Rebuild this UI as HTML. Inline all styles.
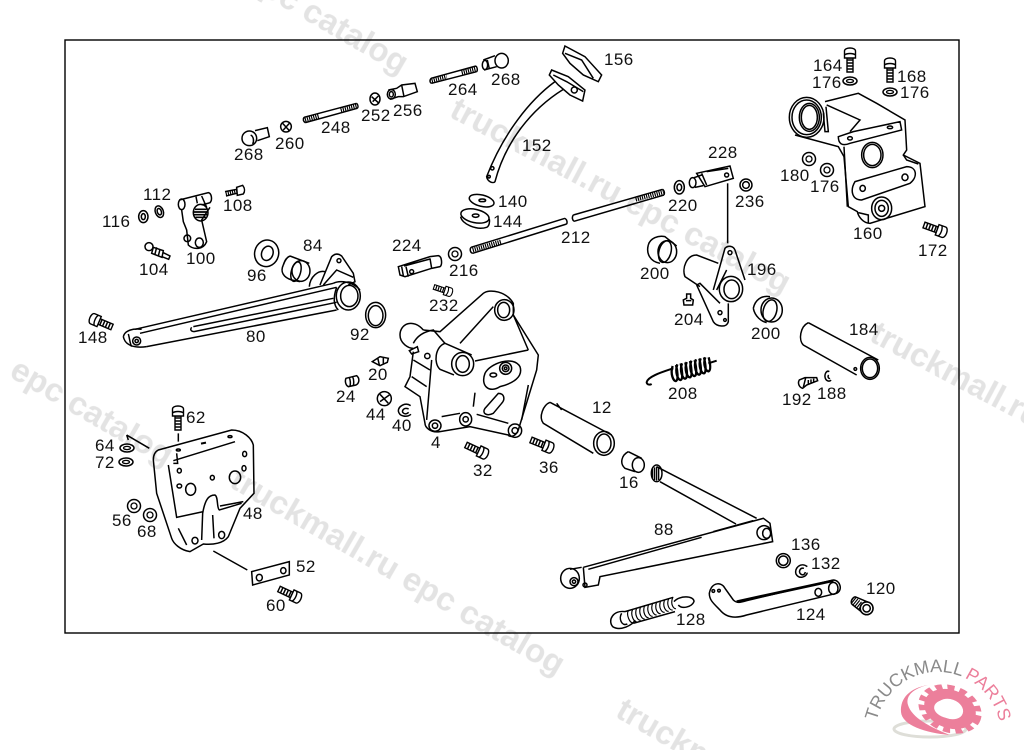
<!DOCTYPE html>
<html><head><meta charset="utf-8"><title>Parts diagram</title>
<style>
html,body{margin:0;padding:0;background:#fff;width:1024px;height:750px;overflow:hidden}
svg{display:block}
.p path,.p ellipse,.p circle,.p rect,.p line,.p polyline{fill:none;stroke:#000}
.p .h{stroke-width:14;stroke-dasharray:3.5 3}
.l text{font:17px "Liberation Sans",sans-serif;fill:#111;letter-spacing:.4px}
.wm text{font:bold 33px "Liberation Sans",sans-serif;fill:#e3e3e3}
</style></head><body>
<svg width="1024" height="750" viewBox="0 0 1024 750" xmlns="http://www.w3.org/2000/svg">
<defs>
<g id="bolt"><path d="M0,-3 L14,-3 L14,3 L0,3 Z" fill="#fff" stroke="#000" stroke-width="1.4"/><path d="M3,-3V3M6,-3V3M9,-3V3M12,-3V3" stroke="#000" stroke-width="1.5"/><path d="M14,-5.5 L21,-5.5 C25,-5.5 25,5.5 21,5.5 L14,5.5 Z M17,-5.5 C19,-3 19,3 17,5.5" fill="#fff" stroke="#000" stroke-width="1.4"/></g>
<g id="nut"><circle r="6.5" fill="#fff" stroke="#000" stroke-width="1.5"/><circle r="3" fill="none" stroke="#000" stroke-width="1.3"/></g>
<g id="wash"><ellipse rx="7" ry="4" fill="#fff" stroke="#000" stroke-width="1.5"/><ellipse rx="3.5" ry="1.6" fill="none" stroke="#000" stroke-width="1.3"/></g>
<path id="arc" d="M875,735 A63,63 0 1 1 1001,735"/>
<clipPath id="pg"><rect width="1024" height="750"/></clipPath>
</defs>

<rect width="1024" height="750" fill="#fff"/>

<!-- main bracket -->
<g class="p" transform="translate(380 280) scale(.3333)" stroke-width="4.5">
<path d="M130,150 L180,155 L310,40 C330,25 380,35 400,70 L400,105 L475,225 L470,270 L415,450 C405,475 385,470 385,465 L270,440 L180,455 C150,460 135,440 135,430 L120,350 L75,320 L90,290 L100,215"/>
<path d="M60,165 C60,130 100,115 130,150 M60,165 C60,190 85,205 100,205"/>
<path d="M100,190 C110,170 130,155 160,150 L195,190"/>
<path d="M240,190 L340,80 M400,105 L445,210 M285,243 L445,210 M285,338 L280,380 M290,403 L385,430 M445,315 L425,420 M185,410 L240,400 M100,240 L150,270 M95,290 L140,320 M155,240 L140,420"/>
<path d="M195,190 L275,225 M195,190 C165,200 160,250 180,268 L222,285"/>
<ellipse cx="248" cy="252" rx="33" ry="35"/><ellipse cx="248" cy="252" rx="20" ry="25"/>
<ellipse cx="373" cy="90" rx="29" ry="31"/><ellipse cx="371" cy="90" rx="18" ry="23"/>
<circle cx="142" cy="228" r="8"/><path d="M88,212 L112,200 L116,215 L95,222 Z"/>
<path d="M315,280 C330,250 400,225 420,260 C430,290 400,310 360,320 C330,340 300,320 315,280 Z"/>
<circle cx="377" cy="265" r="18"/><circle cx="377" cy="265" r="10"/><circle cx="377" cy="265" r="4"/>
<ellipse cx="340" cy="285" rx="10" ry="6"/>
<path d="M315,385 L355,340 C375,340 375,360 365,370 L340,400 C320,410 305,400 315,385 Z"/>
<ellipse cx="165" cy="437" rx="18" ry="17"/><circle cx="165" cy="437" r="8"/>
<ellipse cx="257" cy="418" rx="18" ry="20"/><circle cx="257" cy="418" r="8"/>
<ellipse cx="405" cy="452" rx="20" ry="20"/><circle cx="405" cy="452" r="9"/>
<path d="M510,367 C490,375 475,410 490,430 L640,520 M510,367 L695,465 M530,370 L545,390"/>
<ellipse cx="672" cy="490" rx="31" ry="36"/><ellipse cx="672" cy="490" rx="21" ry="28"/>
<path d="M745,515 C725,525 718,550 735,565 L765,575 M745,515 L785,535"/>
<ellipse cx="775" cy="555" rx="18" ry="22"/>
</g>

<!-- right bracket -->
<g class="p" transform="translate(770 40) scale(.3333)" stroke-width="4.5">
<path d="M165,185 L265,160 L320,190 L405,240 L410,330 L400,345 L450,370 L465,500 L300,550 C280,550 265,530 262,515 L235,500 L222,350 L205,320 L75,285"/>
<ellipse cx="110" cy="232" rx="52" ry="60"/><ellipse cx="110" cy="232" rx="44" ry="52"/><ellipse cx="118" cy="232" rx="30" ry="42"/><ellipse cx="118" cy="232" rx="24" ry="36"/>
<path d="M170,195 L270,240 L240,275 M168,200 L175,275 L165,275 L160,220"/>
<path d="M205,290 L250,275 L390,245 L395,270 L240,310 C215,320 205,310 205,290 Z"/>
<ellipse cx="240" cy="295" rx="7" ry="5"/><ellipse cx="360" cy="262" rx="8" ry="4"/>
<path d="M222,320 L232,500"/>
<ellipse cx="307" cy="345" rx="32" ry="38"/><ellipse cx="307" cy="345" rx="26" ry="32"/>
<path d="M255,425 L410,380 C440,380 445,410 420,430 L275,480 C245,480 240,450 255,425 Z"/>
<ellipse cx="405" cy="412" rx="9" ry="10"/><ellipse cx="278" cy="445" rx="8" ry="9"/>
<ellipse cx="335" cy="505" rx="30" ry="34"/><ellipse cx="335" cy="505" rx="20" ry="24"/><circle cx="335" cy="505" r="9"/>
<path d="M265,518 L295,525 L295,548 M400,345 L410,360 L445,372"/>
</g>
<use href="#wash" x="850" y="81"/><use href="#wash" x="890" y="92"/>
<use href="#bolt" transform="translate(850 72) rotate(-90)"/><use href="#bolt" transform="translate(890 82) rotate(-90)"/>
<use href="#nut" x="809" y="159"/><use href="#nut" x="827" y="170"/>
<use href="#bolt" transform="translate(924 225) rotate(20)"/>

<!-- bottom-left bracket -->
<g class="p" transform="translate(100 400) scale(.3333)" stroke-width="4.5">
<path d="M175,150 L395,90 C430,90 455,115 460,135 L462,280 L420,325 L385,410 C370,430 340,435 310,432 L270,455 C240,450 220,430 215,415 L170,280 L160,180 C160,165 165,155 175,150 Z"/>
<path d="M205,195 L230,352 L310,335 M220,182 L405,125 M230,160 L233,190 L220,190 M308,340 C315,300 325,285 345,285 C355,290 350,325 358,330 L425,310 M360,318 L430,305 M308,340 L305,420 M338,345 L342,415 M235,385 L260,435"/>
<ellipse cx="238" cy="212" rx="6" ry="7"/><ellipse cx="238" cy="258" rx="7" ry="6"/><ellipse cx="337" cy="233" rx="6" ry="7"/><ellipse cx="434" cy="162" rx="6" ry="8"/><ellipse cx="432" cy="205" rx="6" ry="8"/>
<ellipse cx="272" cy="268" rx="15" ry="18"/><ellipse cx="405" cy="232" rx="17" ry="19"/><ellipse cx="285" cy="422" rx="9" ry="10"/><ellipse cx="365" cy="405" rx="9" ry="11"/>
<ellipse cx="390" cy="110" rx="6" ry="3"/><ellipse cx="235" cy="150" rx="6" ry="3"/>
<path d="M303,131 L318,128" stroke-width="6"/>
<path d="M235,100 L235,125 M80,105 L148,145 M80,105 L85,120 M340,453 L442,510"/>
<path d="M455,515 L568,485 L568,525 L458,555 Z"/><ellipse cx="478" cy="533" rx="9" ry="10"/><ellipse cx="550" cy="512" rx="8" ry="9"/>
</g>
<use href="#bolt" transform="translate(178 430) rotate(-90)"/>
<use href="#wash" x="127" y="448"/><use href="#wash" x="126" y="462"/>
<use href="#nut" x="134" y="506"/><use href="#nut" x="150" y="515"/>
<use href="#bolt" transform="translate(279 589) rotate(25)"/>

<!-- top row -->
<g class="p" transform="translate(230 40) scale(.3333)" stroke-width="4.5">
<ellipse cx="58" cy="295" rx="22" ry="22"/><path d="M62,285 C72,290 72,305 68,312"/><path d="M75,272 L112,263 L118,290 L82,302"/>
<circle cx="168" cy="260" r="16"/><path d="M158,250 L178,272 M178,250 L160,270"/>
<path d="M222,232 L380,190 M226,248 L382,205 M222,232 C218,238 220,245 226,248 M380,190 C385,196 385,202 382,205"/>
<path d="M225,240 L268,228 M332,210 L380,198" class="h"/>
<ellipse cx="435" cy="177" rx="15" ry="18"/><path d="M425,170 L445,188 M445,168 L428,185"/>
<path d="M475,150 L500,145 L515,135 L555,130 L562,155 L520,170 L505,170 L480,178"/><ellipse cx="484" cy="163" rx="12" ry="14"/><ellipse cx="484" cy="163" rx="6" ry="8"/><path d="M515,135 L522,170"/>
<path d="M603,115 L738,78 M605,130 L740,95 M603,115 C598,122 600,128 605,130 M738,78 C743,84 743,92 740,95"/>
<path d="M605,122 L650,110 M695,98 L738,87" class="h"/>
<path d="M795,47 L760,60 M762,90 L800,80"/><ellipse cx="815" cy="62" rx="20" ry="22"/><ellipse cx="765" cy="75" rx="8" ry="14"/><path d="M772,60 L778,86"/>
<path d="M1005,18 L1065,50 L1115,105 L1105,125 L1060,105 L1020,70 L998,40 Z M1005,40 L1055,60 L1090,115"/>
<path d="M965,90 L1015,110 L1065,150 L1058,183 L1020,165 L985,135 L958,105 Z M970,105 L1010,125 L1060,155"/><circle cx="1033" cy="150" r="9"/>
<path d="M975,125 C900,180 820,280 770,410 C772,425 790,432 795,425 C825,310 900,210 1000,148"/><circle cx="787" cy="385" r="5"/><circle cx="777" cy="410" r="4"/>
<ellipse cx="755" cy="482" rx="38" ry="17" transform="rotate(14 755 482)"/><ellipse cx="757" cy="481" rx="10" ry="4"/>
<ellipse cx="735" cy="528" rx="43" ry="20" transform="rotate(12 735 528)"/><path d="M692,530 C695,552 740,572 770,562 C778,558 780,545 778,537"/><ellipse cx="737" cy="527" rx="10" ry="5"/>
</g>

<!-- left lever group -->
<g class="p" transform="translate(70 170) scale(.3333)" stroke-width="4.5">
<ellipse cx="268" cy="125" rx="12" ry="18" transform="rotate(-20 268 125)"/><ellipse cx="268" cy="125" rx="6" ry="10" transform="rotate(-20 268 125)"/>
<ellipse cx="220" cy="140" rx="14" ry="18"/><ellipse cx="220" cy="140" rx="6" ry="9"/>
<path d="M465,65 L500,58 M468,78 L500,70"/><path d="M467,71 L500,64" class="h"/><path d="M500,52 L518,46 C525,55 525,65 520,72 L502,76 Z"/>
<path d="M328,90 L415,68 C425,70 428,90 420,98 L395,105"/><ellipse cx="335" cy="103" rx="10" ry="16"/>
<path d="M335,120 L340,155 L350,180 L355,225 C370,240 400,240 410,215 L395,150 L420,112"/>
<path d="M378,80 L382,100 M395,78 L410,112"/>
<ellipse cx="392" cy="128" rx="22" ry="25"/><path d="M375,118 H410 M372,126 H412 M372,134 H412 M376,142 H408" stroke-width="5"/>
<circle cx="352" cy="205" r="10"/><ellipse cx="388" cy="218" rx="12" ry="14"/>
<circle cx="237" cy="230" r="12"/><path d="M250,232 L280,242 L276,262 L245,250 Z M260,232 L255,252 M270,238 L265,258"/><path d="M280,248 L300,258 L296,268 L276,260"/>
<ellipse cx="590" cy="250" rx="36" ry="40" transform="rotate(15 590 250)"/><ellipse cx="592" cy="250" rx="17" ry="22" transform="rotate(20 592 250)"/>
<path d="M660,258 L718,280 M640,285 C645,270 650,262 660,258 M640,285 C630,305 640,322 665,330 L690,335"/><ellipse cx="693" cy="303" rx="27" ry="31"/><ellipse cx="678" cy="305" rx="14" ry="30" transform="rotate(15 678 305)"/>
<path d="M750,345 L785,260 C795,250 805,250 815,258 L850,310 L855,335 L835,345"/><circle cx="807" cy="272" r="6"/><path d="M760,345 L800,300 L850,322"/>
<path d="M718,350 C720,320 745,300 765,305"/>
<path d="M195,478 L790,340 M210,490 L800,352 M370,470 L790,385 M372,485 L800,397 M365,472 C360,478 362,484 372,485 M230,530 L800,420"/>
<path d="M160,500 C165,480 190,475 215,478 M160,500 C165,525 190,535 230,530"/><ellipse cx="200" cy="513" rx="12" ry="12"/><circle cx="200" cy="513" r="5"/><path d="M175,492 C180,510 180,522 185,530"/>
<path d="M790,340 C810,330 850,335 870,360 M800,352 C790,380 790,405 805,420"/>
<ellipse cx="835" cy="378" rx="36" ry="42"/><ellipse cx="838" cy="378" rx="26" ry="32"/>
<ellipse cx="917" cy="435" rx="30" ry="38"/><ellipse cx="917" cy="437" rx="22" ry="30"/>
</g>

<!-- centre right -->
<g class="p" transform="translate(470 140) scale(.3333)" stroke-width="4.5">
<path d="M3,322 L285,235 M8,340 L290,252 M285,235 C292,240 292,248 290,252 M3,322 C-2,330 2,338 8,340"/>
<path d="M8,330 L95,305" class="h"/>
<path d="M310,225 L578,148 M312,244 L582,165 M310,225 C305,232 307,240 312,244 M578,148 C584,154 584,160 582,165"/>
<path d="M497,178 L580,156" class="h"/>
<ellipse cx="628" cy="142" rx="15" ry="20"/><ellipse cx="628" cy="142" rx="7" ry="10"/>
<path d="M680,100 L780,78 L790,115 L705,140 Z M710,95 L775,85 M695,100 L710,135 M672,113 L695,105 M675,142 L700,137"/><ellipse cx="668" cy="128" rx="10" ry="15"/><circle cx="770" cy="105" r="6"/>
<circle cx="828" cy="135" r="18"/><circle cx="828" cy="135" r="10"/>
<path d="M773,130 L773,310"/>
<path d="M535,315 C540,295 565,285 585,290 L620,318 M535,315 C528,340 540,365 570,370"/><ellipse cx="592" cy="335" rx="28" ry="33"/><ellipse cx="585" cy="335" rx="18" ry="33" transform="rotate(15 585 335)"/>
<path d="M745,370 L680,345 C650,345 635,385 645,410 L690,440"/>
<path d="M730,450 L765,325 C775,315 790,318 795,330 L825,420 M740,450 L770,390"/><circle cx="780" cy="338" r="6"/>
<ellipse cx="783" cy="447" rx="35" ry="38"/><ellipse cx="785" cy="448" rx="23" ry="28"/>
<path d="M680,435 L730,545 C740,560 770,565 775,545 L775,490 M680,435 L690,430 L750,490"/><circle cx="750" cy="518" r="6"/><circle cx="765" cy="540" r="4"/>
<path d="M650,462 L662,462 L662,475 L670,480 L668,495 L642,495 L640,480 L650,475 Z M648,482 H664"/>
<ellipse cx="905" cy="510" rx="32" ry="36"/><ellipse cx="900" cy="512" rx="20" ry="33" transform="rotate(15 900 512)"/>
<path d="M850,505 C855,480 875,465 900,470 M850,505 C855,530 875,545 890,548"/>
</g>

<!-- lower right -->
<g class="p" transform="translate(550 450) scale(.3333)" stroke-width="4.5">
<path d="M320,50 L620,205 M330,95 L558,222"/><ellipse cx="320" cy="70" rx="16" ry="25"/><path d="M308,56 V85 M314,52 V90 M320,50 V92 M326,52 V90" stroke-width="4"/>
<path d="M100,352 L640,205 L660,220 L668,275 L150,380 L145,405 L105,412 L100,352 M115,358 L455,262 M490,245 L610,212"/>
<ellipse cx="60" cy="385" rx="28" ry="30"/><circle cx="72" cy="395" r="12"/><circle cx="72" cy="395" r="5"/><path d="M60,358 L95,352"/>
<circle cx="105" cy="405" r="6"/>
<circle cx="642" cy="248" r="21"/><ellipse cx="650" cy="250" rx="12" ry="15"/>
<circle cx="700" cy="332" r="21"/><circle cx="700" cy="332" r="14"/>
<path d="M772,350 C752,335 732,355 738,372 C748,390 770,380 772,368"/><path d="M762,355 C750,352 745,365 752,372 C760,378 765,372 766,366"/>
<path d="M478,430 C485,395 515,395 525,415 L550,450 C560,460 570,458 590,452 L850,390 C870,390 880,420 860,430 L590,495 C560,505 530,505 510,480 C490,460 478,450 478,430 Z"/>
<path d="M560,455 L850,392" stroke-width="8"/><circle cx="490" cy="423" r="4"/><circle cx="507" cy="422" r="4"/><ellipse cx="805" cy="427" rx="10" ry="12"/><ellipse cx="850" cy="415" rx="14" ry="18"/>
<path d="M225,485 C190,480 172,510 188,530 C210,545 250,525 255,510 M372,455 C388,436 432,436 432,455 C425,472 395,478 385,465"/>
<path d="M225,485 L370,442 M250,520 L375,485"/>
<path d="M235,482 C228,495 240,520 248,518 M248,478 C240,495 252,516 260,515 M260,474 C252,495 264,512 272,511 M272,470 C264,490 276,508 284,507 M284,466 C276,488 288,504 296,503 M296,463 C288,484 300,500 308,499 M308,460 C300,480 312,496 320,495 M320,456 C312,478 324,492 332,491 M332,452 C324,474 336,488 344,487 M344,449 C336,470 348,485 356,484 M356,446 C348,466 360,482 368,480 M368,443 C360,464 372,478 378,476" stroke-width="3.5"/>
<path d="M215,490 C205,505 215,530 232,522"/>
<circle cx="950" cy="475" r="19"/><path d="M915,440 L958,458 M905,462 L940,490 M915,440 C905,445 902,455 905,462"/><path d="M910,450 L945,478" stroke-width="22" stroke-dasharray="3.5 3.5"/><circle cx="950" cy="475" r="19" style="fill:#fff"/><circle cx="950" cy="475" r="11"/>
</g>

<!-- spring 208, 184, 188, 192 -->
<g class="p" transform="translate(640 310) scale(.3333)" stroke-width="4.5">
<path d="M100,175 C70,185 20,200 20,218 C22,225 30,225 35,222 M205,160 L230,152" stroke-width="6"/>
<path d="M98,168 C90,190 100,215 108,213 C116,210 112,180 108,165 M112,163 C104,185 114,212 122,210 C130,208 126,178 122,160 M126,160 C118,182 128,208 136,206 C144,204 140,175 136,157 M140,156 C132,178 142,204 150,202 C158,200 154,172 150,153 M154,152 C146,175 156,200 164,198 C172,196 168,168 164,150 M168,148 C160,170 170,196 178,194 C186,192 182,164 178,146 M182,145 C174,166 184,192 192,190 C200,188 196,160 192,142 M196,142 C188,162 198,186 206,184 C214,180 210,158 206,142" stroke-width="7"/>
<path d="M505,38 C480,50 475,90 490,105 L650,195 M505,38 L715,150"/><ellipse cx="690" cy="175" rx="28" ry="33"/><ellipse cx="690" cy="175" rx="23" ry="28"/><circle cx="646" cy="177" r="4"/>
<path d="M478,210 L495,203 L530,203 L533,212 L500,225 L488,235 C478,232 472,220 478,210 Z M497,204 L490,232 M505,210 V222 M513,208 V220 M521,206 V217"/>
<path d="M573,210 C570,215 560,215 556,205 C552,192 560,180 568,185 M566,195 C562,200 566,207 570,205"/>
</g>

<!-- 224, 20, 24, 44, 40 -->
<g class="p" transform="translate(330 235) scale(.3333)" stroke-width="4.5">
<path d="M205,95 L300,65 L325,62 C337,65 337,90 330,95 L305,100 L225,125 L210,120 Z M222,93 L300,72 M235,125 L228,95 M300,70 L305,100 M215,95 L220,122"/><circle cx="245" cy="110" r="6"/>
<path d="M127,380 L150,365 L175,370 L172,382 L150,392 Z M143,368 L148,390 M160,367 L160,386"/>
<path d="M48,430 L80,422 C90,430 88,445 78,450 L55,455 C45,450 45,435 48,430 Z M58,428 C62,438 62,445 60,454 M68,425 C72,435 72,443 70,452"/>
<circle cx="163" cy="491" r="21"/><path d="M150,478 L175,505 M178,480 L150,500"/>
<path d="M242,512 C225,500 205,515 205,528 C208,545 230,548 243,538"/><path d="M236,522 C222,516 216,526 218,532 C225,540 232,536 236,532"/>
</g>
<use href="#nut" x="455" y="254"/>
<use href="#bolt" transform="translate(112 327) rotate(203)"/>
<use href="#bolt" transform="translate(434 287) rotate(18) scale(.8)"/>
<use href="#bolt" transform="translate(466 445) rotate(25)"/>
<use href="#bolt" transform="translate(531 440) rotate(22)"/>

<!-- labels -->
<g class="l">
<text x="234" y="160">268</text><text x="275" y="149">260</text><text x="321" y="133">248</text><text x="361" y="121">252</text><text x="393" y="116">256</text><text x="448" y="95">264</text><text x="491" y="85">268</text><text x="604" y="65">156</text><text x="522" y="151">152</text>
<text x="498" y="207">140</text><text x="493" y="227">144</text><text x="708" y="158">228</text><text x="668" y="211">220</text><text x="735" y="207">236</text><text x="561" y="243">212</text>
<text x="813" y="71">164</text><text x="812" y="88">176</text><text x="897" y="82">168</text><text x="900" y="98">176</text><text x="780" y="181">180</text><text x="810" y="192">176</text><text x="853" y="239">160</text><text x="918" y="256">172</text>
<text x="143" y="200">112</text><text x="102" y="227">116</text><text x="223" y="211">108</text><text x="139" y="275">104</text><text x="186" y="264">100</text><text x="247" y="281">96</text><text x="303" y="251">84</text><text x="78" y="343">148</text><text x="246" y="342">80</text><text x="350" y="340">92</text>
<text x="392" y="251">224</text><text x="449" y="276">216</text><text x="429" y="311">232</text><text x="640" y="279">200</text><text x="747" y="275">196</text><text x="674" y="325">204</text><text x="751" y="339">200</text><text x="849" y="335">184</text>
<text x="668" y="399">208</text><text x="817" y="399">188</text><text x="782" y="405">192</text><text x="368" y="380">20</text><text x="336" y="402">24</text><text x="366" y="420">44</text><text x="392" y="431">40</text><text x="431" y="448">4</text><text x="473" y="476">32</text><text x="539" y="473">36</text><text x="592" y="413">12</text><text x="619" y="488">16</text>
<text x="186" y="423">62</text><text x="95" y="451">64</text><text x="95" y="468">72</text><text x="112" y="526">56</text><text x="137" y="537">68</text><text x="243" y="519">48</text><text x="296" y="572">52</text><text x="266" y="611">60</text>
<text x="654" y="535">88</text><text x="791" y="550">136</text><text x="811" y="569">132</text><text x="866" y="594">120</text><text x="796" y="620">124</text><text x="676" y="625">128</text>
</g>

<!-- frame -->
<rect x="65" y="40" width="894" height="593" fill="none" stroke="#000" stroke-width="1.4"/>

<!-- watermarks -->
<g class="wm" style="mix-blend-mode:multiply" clip-path="url(#pg)">
<text transform="translate(243 -16) rotate(30)">epc catalog</text>
<text transform="translate(448 116) rotate(28)">truckmall.ru epc catalog</text>
<text transform="translate(868 340) rotate(28)">truckmall.ru</text>
<text transform="translate(8 376) rotate(30)">epc catalog</text>
<text transform="translate(228 486) rotate(30)">truckmall.ru epc catalog</text>
<text transform="translate(614 716) rotate(30)">truckm</text>
</g>

<!-- logo -->
<g>
<ellipse cx="930" cy="729" rx="36" ry="8" fill="none" stroke="#deded8" stroke-width="3"/>
<path d="M928,685 C910,688 900,698 901,712 C902,725 925,733 950,735 C930,727 912,718 908,705 C905,695 915,688 928,685 Z" fill="#ec7f9b"/>
<g transform="translate(950 709) rotate(20) scale(1 .72)">
<circle r="28" fill="none" stroke="#ec7f9b" stroke-width="9" stroke-dasharray="7 5.2"/>
<circle r="20" fill="none" stroke="#ec7f9b" stroke-width="13"/>
</g>
<ellipse cx="948" cy="709" rx="14" ry="9" fill="#fff" transform="rotate(10 948 709)"/>
<text font-family="'Liberation Sans',sans-serif" font-size="18" fill="#8a8a8a"><textPath href="#arc" startOffset="14">TRUCKMALL</textPath></text>
<text font-family="'Liberation Sans',sans-serif" font-size="18" fill="#ec7f9b"><textPath href="#arc" startOffset="126">PARTS</textPath></text>
</g>
</svg>
</body></html>
